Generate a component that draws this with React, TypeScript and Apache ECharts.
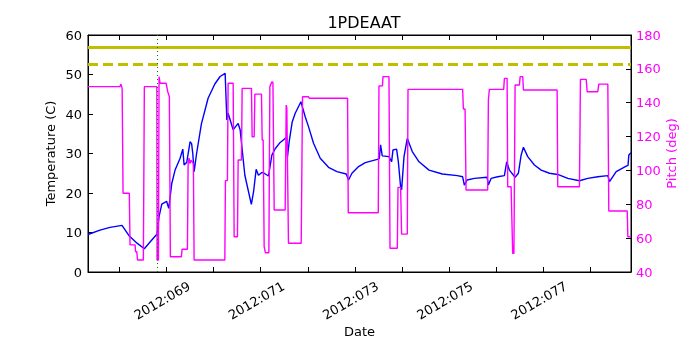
import { useEffect, useRef } from 'react';
import * as echarts from 'echarts';

// Temperature (C) vs day of year 2012
const tempDays = [
  67.335, 67.590, 67.802, 68.057, 68.212, 68.376, 68.531, 68.652, 68.801, 68.843,
  68.901, 69.003, 69.049, 69.113, 69.183, 69.290, 69.347, 69.375, 69.432, 69.502,
  69.534, 69.559, 69.587, 69.640, 69.742, 69.884, 70.027, 70.139, 70.246, 70.282,
  70.309, 70.416, 70.479, 70.522, 70.564, 70.664, 70.802, 70.851, 70.904, 70.953,
  71.025, 71.074, 71.165, 71.238, 71.308, 71.414, 71.520, 71.552, 71.569, 71.605,
  71.669, 71.733, 71.854, 71.945, 72.015, 72.122, 72.264, 72.440, 72.619, 72.816,
  72.865, 72.937, 73.078, 73.220, 73.475, 73.517, 73.545, 73.581, 73.723, 73.779,
  73.808, 73.885, 73.921, 73.970, 73.991, 74.042, 74.112, 74.218, 74.361, 74.573,
  74.856, 75.174, 75.287, 75.323, 75.380, 75.536, 75.805, 75.833, 75.890, 76.031,
  76.173, 76.222, 76.279, 76.400, 76.470, 76.528, 76.577, 76.668, 76.810, 76.953,
  77.129, 77.305, 77.518, 77.766, 77.943, 78.155, 78.368, 78.404, 78.546, 78.758,
  78.797, 78.814, 78.860,
];
const tempC = [
  9.5, 10.6, 11.3, 11.8, 9.1, 7.3, 5.9, 7.6, 9.6, 14.0,
  17.2, 17.9, 16.1, 22.4, 25.8, 28.8, 31.1, 27.1, 27.8, 33.0,
  32.5, 30.0, 25.4, 30.0, 37.5, 44.0, 47.6, 49.5, 50.3, 38.5,
  40.2, 36.0, 37.0, 37.6, 36.0, 24.5, 17.1, 20.5, 26.0, 24.5,
  25.2, 25.0, 24.3, 29.6, 31.2, 32.8, 33.8, 34.0, 29.2, 33.0,
  38.0, 40.2, 43.1, 39.3, 36.8, 32.6, 28.8, 26.5, 25.4, 24.8,
  23.3, 25.0, 26.7, 27.7, 28.5, 28.7, 32.2, 29.4, 29.2, 27.9,
  30.9, 31.1, 28.0, 21.6, 20.8, 29.2, 33.8, 30.5, 27.9, 25.8,
  24.8, 24.4, 24.1, 22.0, 23.3, 23.7, 24.0, 22.0, 23.7, 24.1,
  24.4, 27.9, 25.8, 24.0, 25.0, 29.6, 31.6, 29.2, 27.1, 25.8,
  25.0, 24.7, 23.7, 23.1, 23.7, 24.1, 24.4, 22.9, 25.4, 26.8,
  27.0, 29.6, 30.2,
];

// Pitch (deg) vs day of year 2012
const pitchDays = [
  67.335, 68.015, 68.030, 68.047, 68.060, 68.079, 68.212, 68.227, 68.334, 68.345,
  68.370, 68.387, 68.510, 68.531, 68.796, 68.801, 68.830, 68.843, 68.865, 68.992,
  69.028, 69.062, 69.083, 69.317, 69.332, 69.445, 69.460, 69.480, 69.500, 69.520,
  69.572, 69.587, 70.239, 70.252, 70.294, 70.309, 70.416, 70.437, 70.507, 70.522,
  70.592, 70.607, 70.804, 70.819, 70.862, 70.877, 71.017, 71.032, 71.053, 71.074,
  71.100, 71.174, 71.195, 71.238, 71.260, 71.287, 71.520, 71.542, 71.555, 71.590,
  71.860, 71.888, 72.015, 72.030, 72.844, 72.859, 73.496, 73.511, 73.585, 73.596,
  73.723, 73.745, 73.900, 73.915, 73.970, 73.991, 74.112, 74.127, 75.287, 75.302,
  75.338, 75.359, 75.818, 75.833, 75.854, 76.158, 76.173, 76.230, 76.243, 76.315,
  76.349, 76.375, 76.400, 76.492, 76.507, 76.562, 76.577, 77.292, 77.305, 77.766,
  77.787, 77.909, 77.930, 78.155, 78.176, 78.368, 78.389, 78.780, 78.793, 78.860,
];
const pitchDeg = [
  149.5, 149.5, 151, 150, 148, 86.5, 86.5, 56, 56, 52,
  52, 47.1, 47.1, 149.5, 149.5, 47, 47, 155.4, 151.5, 151.5,
  146.5, 143.5, 49, 49, 53.4, 53.4, 104.2, 107.2, 104, 106,
  104, 47.1, 47.1, 94, 94, 151.5, 151.5, 60.8, 60.8, 106.2,
  106.2, 148.5, 148.5, 119.9, 119.9, 145.1, 145.1, 118, 118, 55,
  51.4, 51.4, 149.5, 152.4, 152, 76.6, 76.6, 138.6, 137, 57,
  57, 143.5, 143.5, 142.6, 142.6, 75, 75, 149.9, 150, 155.4,
  155.4, 54, 54, 90, 90, 62.4, 62.4, 147.9, 147.9, 136.3,
  136.3, 88.4, 88.4, 141.6, 147.9, 147.9, 154.4, 154.4, 90.4, 90.4,
  51, 51, 150.5, 150.5, 155.4, 155.4, 147.5, 147.5, 90.4, 90.4,
  153.8, 153.8, 146.5, 146.5, 151, 151, 76, 76, 60.8, 60.8,
];

const dayTicks = [68, 69, 70, 71, 72, 73, 74, 75, 76, 77, 78];
const dayLabels = [69, 71, 73, 75, 77];
const dayMin = 67.335;
const dayMax = 78.86;
const limitSolid = 57;
const limitDashed = 52.5;
const markerDay = 68.801;

const FONT = 'DejaVu Sans';

export default function App() {
  const ref = useRef<HTMLDivElement>(null);
  useEffect(() => {
    const chart = echarts.init(ref.current!, null, { renderer: 'svg' });
    const tempData = tempDays.map((d, i) => [d, tempC[i]]);
    const pitchData = pitchDays.map((d, i) => [d, pitchDeg[i]]);
    const axisLineStyle = { color: '#000', width: 1 };
    chart.setOption({
      animation: false,
      textStyle: { fontFamily: FONT },
      title: {
        text: '1PDEAAT',
        left: 359,
        top: 9,
        textAlign: 'center',
        textStyle: { fontSize: 16, fontWeight: 'normal', color: '#000', fontFamily: FONT },
      },
      grid: {
        left: 88, right: 69, top: 35, bottom: 78,
        show: true, borderColor: '#000', borderWidth: 1,
      },
      xAxis: [
        {
          type: 'value', min: dayMin, max: dayMax, position: 'bottom',
          axisLine: { show: true, onZero: false, lineStyle: axisLineStyle },
          axisTick: { show: true, inside: true, length: 5, customValues: dayTicks, lineStyle: axisLineStyle },
          axisLabel: {
            customValues: dayLabels,
            formatter: (v: number) => '2012:' + String(Math.round(v)).padStart(3, '0'),
            rotate: 30, align: 'center', verticalAlign: 'middle', margin: 26,
            padding: [0, 10, 0, 0],
            fontSize: 13, color: '#000', fontFamily: FONT,
          },
          splitLine: { show: false },
          name: 'Date', nameLocation: 'middle', nameGap: 53, nameMoveOverlap: false,
          nameTextStyle: { fontSize: 13, color: '#000', fontFamily: FONT },
        },
        {
          type: 'value', min: dayMin, max: dayMax, position: 'top',
          axisLine: { show: true, onZero: false, lineStyle: axisLineStyle },
          axisTick: { show: true, inside: true, length: 5, customValues: dayTicks, lineStyle: axisLineStyle },
          axisLabel: { show: false },
          splitLine: { show: false },
        },
      ],
      yAxis: [
        {
          type: 'value', min: 0, max: 60, interval: 10, position: 'left',
          axisLine: { show: true, onZero: false, lineStyle: axisLineStyle },
          axisTick: { show: true, inside: true, length: 5, lineStyle: axisLineStyle },
          axisLabel: { fontSize: 13, color: '#000', margin: 6, fontFamily: FONT },
          splitLine: { show: false },
          name: 'Temperature (C)', nameLocation: 'middle', nameRotate: 90, nameGap: 31, nameMoveOverlap: false,
          nameTextStyle: { fontSize: 13, color: '#000', fontFamily: FONT },
        },
        {
          type: 'value', min: 40, max: 180, interval: 20, position: 'right',
          axisLine: { show: true, onZero: false, lineStyle: axisLineStyle },
          axisTick: { show: true, inside: true, length: 5, lineStyle: axisLineStyle },
          axisLabel: { fontSize: 13, color: '#ff00ff', margin: 5, fontFamily: FONT },
          splitLine: { show: false },
          name: 'Pitch (deg)', nameLocation: 'middle', nameRotate: 90, nameGap: 34, nameMoveOverlap: false,
          nameTextStyle: { fontSize: 13, color: '#ff00ff', fontFamily: FONT },
        },
      ],
      series: [
        {
          name: 'Temperature', type: 'line', xAxisIndex: 0, yAxisIndex: 0,
          data: tempData, showSymbol: false, symbol: 'none',
          lineStyle: { color: '#0000ff', width: 1.4 },
          itemStyle: { color: '#0000ff' },
          emphasis: { disabled: true },
          markLine: {
            silent: true, symbol: 'none', label: { show: false },
            emphasis: { disabled: true },
            data: [
              { yAxis: limitSolid, lineStyle: { color: '#bfbf00', width: 3, type: 'solid' } },
              { yAxis: limitDashed, lineStyle: { color: '#bfbf00', width: 3, type: [10, 5] } },
              { xAxis: markerDay, lineStyle: { color: '#007f00', width: 1, type: [1, 3] } },
            ],
          },
        },
        {
          name: 'Pitch', type: 'line', xAxisIndex: 0, yAxisIndex: 1,
          data: pitchData, showSymbol: false, symbol: 'none',
          lineStyle: { color: '#ff00ff', width: 1.4 },
          itemStyle: { color: '#ff00ff' },
          emphasis: { disabled: true },
        },
      ],
    });
    return () => chart.dispose();
  }, []);
  return <div ref={ref} style={{ position: 'fixed', left: 0, top: 0, width: 700, height: 350 }} />;
}
